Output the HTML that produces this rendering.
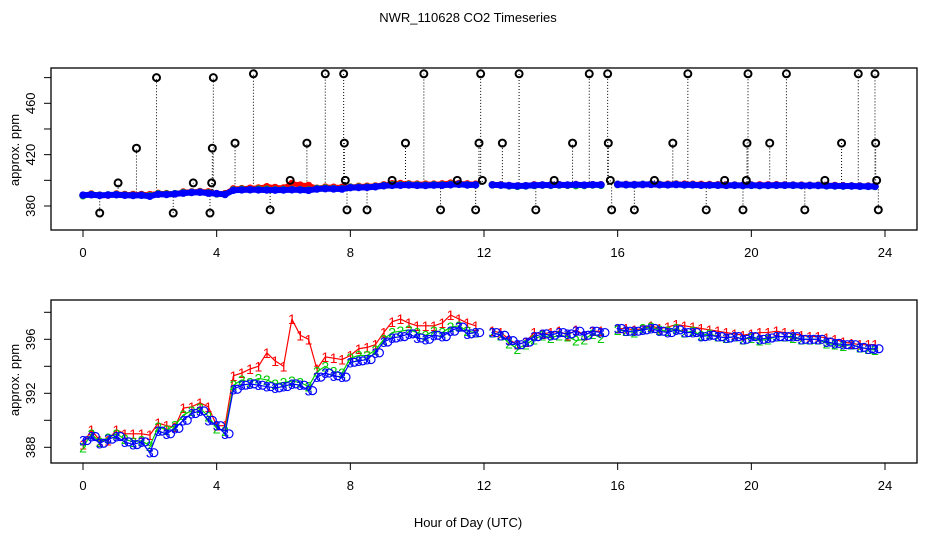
<!DOCTYPE html>
<html><head><meta charset="utf-8">
<style>
html,body{margin:0;padding:0;background:#fff;}
svg{display:block;font-family:"Liberation Sans",sans-serif;}
</style></head>
<body>
<svg id="chart" width="936" height="540" viewBox="0 0 936 540" xmlns="http://www.w3.org/2000/svg">
<rect x="0" y="0" width="936" height="540" fill="#fff"/>
<text x="468" y="22" font-size="13" text-anchor="middle">NWR_110628  CO2 Timeseries</text>
<g id="topPanel"></g>
<g id="botPanel"></g>
<text x="468" y="527" font-size="13" text-anchor="middle">Hour of Day (UTC)</text>
</svg>
<script>
// time grid (hours) for series
const times = [0,0.25,0.5,0.75,1,1.25,1.5,1.75,2,2.25,2.5,2.75,3,3.25,3.5,3.75,4,4.25,4.5,4.75,5,5.25,5.5,5.75,6,6.25,6.5,6.75,7,7.25,7.5,7.75,8,8.25,8.5,8.75,9,9.25,9.5,9.75,10,10.25,10.5,10.75,11,11.25,11.5,11.75,12.25,12.5,12.75,13,13.25,13.5,13.75,14,14.25,14.5,14.75,15,15.25,15.5,16,16.25,16.5,16.75,17,17.25,17.5,17.75,18,18.25,18.5,18.75,19,19.25,19.5,19.75,20,20.25,20.5,20.75,21,21.25,21.5,21.75,22,22.25,22.5,22.75,23,23.25,23.5,23.7];
const series1 = [388.2,389.3,388.5,388.5,389.3,389.0,389.0,389.0,388.9,389.8,389.6,389.5,390.9,391.0,391.3,391.0,389.6,389.6,393.3,393.5,393.8,394.0,395.0,394.4,394.0,397.5,396.3,396.0,393.8,394.7,394.6,394.5,394.8,395.3,395.4,395.6,396.5,397.3,397.5,397.2,397.0,397.0,397.0,397.2,397.8,397.5,397.2,397.0,396.6,396.5,396.0,395.6,395.8,396.5,396.4,396.5,396.6,396.3,396.7,396.3,396.6,396.6,396.8,396.8,396.7,396.8,397.0,396.8,396.9,397.1,397.0,396.9,396.8,396.7,396.6,396.5,396.4,396.3,396.4,396.5,396.5,396.6,396.5,396.4,396.3,396.2,396.2,396.1,396.0,395.8,395.7,395.6,395.6,395.6];
const series2 = [388.0,389.0,388.4,388.7,389.0,388.6,388.4,388.5,388.1,389.5,389.3,389.6,390.4,390.7,390.9,390.3,389.4,389.2,392.6,393.0,392.8,393.1,393.0,392.7,392.8,392.9,392.8,392.5,393.6,394.0,393.6,393.5,394.6,394.8,394.8,395.2,396.0,396.5,396.6,396.7,396.5,396.3,396.6,396.5,396.9,397.0,396.6,396.5,396.5,396.3,395.7,395.3,395.6,396.0,396.3,396.1,396.3,396.2,395.9,396.0,396.4,396.1,396.7,396.6,396.5,396.8,396.9,396.7,396.6,396.8,396.5,396.6,396.3,396.4,396.2,396.1,396.2,396.0,396.1,395.9,396.0,396.2,396.2,396.1,396.0,396.0,396.0,395.7,395.6,395.5,395.6,395.4,395.3,395.2];
const series3 = [388.5,388.8,388.3,388.6,388.8,388.4,388.2,388.4,387.6,389.2,389.0,389.4,390.0,390.5,390.7,390.0,389.6,389.0,392.3,392.6,392.7,392.6,392.5,392.4,392.5,392.7,392.6,392.2,393.2,393.5,393.3,393.2,394.3,394.4,394.5,395.0,395.8,396.1,396.2,396.4,396.1,396.0,396.3,396.2,396.6,396.9,396.4,396.5,396.5,396.3,395.9,395.6,395.8,396.2,396.4,396.3,396.5,396.4,396.6,396.3,396.6,396.5,396.8,396.6,396.6,396.7,396.8,396.6,396.5,396.7,396.5,396.5,396.2,396.3,396.2,396.1,396.2,396.0,396.2,396.0,396.1,396.2,396.2,396.2,396.0,396.0,396.0,395.8,395.7,395.6,395.6,395.4,395.3,395.3];
// outliers in top panel
const outTimes = [0.5,1.05,1.6,2.2,2.7,3.3,3.8,3.85,3.87,3.9,4.55,5.1,5.6,6.2,6.7,7.25,7.8,7.82,7.85,7.9,8.5,9.25,9.65,10.2,10.7,11.2,11.75,11.85,11.9,11.95,12.55,13.05,13.55,14.1,14.65,15.15,15.7,15.72,15.78,15.82,16.5,17.1,17.65,18.1,18.65,19.2,19.75,19.85,19.87,19.9,20.55,21.05,21.6,22.2,22.7,23.2,23.7,23.72,23.75,23.8];
const outValues = [374.5,398,425,480,374.5,398,374.5,398,425,480,429,483,377,400,429,483,483,429,400,377,377,400,429,483,377,400,377,429,483,400,429,483,377,400,429,483,483,429,400,377,377,400,429,483,377,400,377,400,429,483,429,483,377,400,429,483,483,429,400,377];
const xTicks = [0,4,8,12,16,20,24];
const topYTicks = [380,400,420,440,460,480];
const topYLabels = [380,420,460];
const botYTicks = [388,390,392,394,396,398];
const botYLabels = [388,392,396];

(function(){
const NS="http://www.w3.org/2000/svg";
const X0=51,X1=917;
const xs=h=>83+h*(885-83)/24;
const topY=v=>206-(v-380)*(206-103.3)/80;
const botY=v=>447.3-(v-388)*(447.3-339.3)/8;
function mk(parent,tag,attrs,txt){const e=document.createElementNS(NS,tag);for(const k in attrs)e.setAttribute(k,attrs[k]);if(txt!==undefined)e.textContent=txt;parent.appendChild(e);return e;}
function gap(i){return i>0 && times[i]-times[i-1]>0.3;}
function nearest(s,t){let bi=0,bd=1e9;for(let i=0;i<times.length&&i<s.length;i++){const d=Math.abs(times[i]-t);if(d<bd){bd=d;bi=i;}}return s[bi];}

function axes(g,y0,y1,yfn,yt,yl,name,cy){
  const box=mk(g,'rect',{x:X0,y:y0,width:X1-X0,height:y1-y0,fill:'none',stroke:'#000','stroke-width':1.3});
  
  
  xTicks.forEach(t=>{
    const l=mk(g,'line',{x1:xs(t),x2:xs(t),y1:y1,y2:y1+7,stroke:'#000'});
    
    
    const tx=mk(g,'text',{x:xs(t),y:y1+27,'font-size':13,'text-anchor':'middle'},String(t));
    
    
  });
  yt.forEach(v=>{
    const l=mk(g,'line',{x1:X0-7,x2:X0,y1:yfn(v),y2:yfn(v),stroke:'#000'});
    
    
  });
  yl.forEach(v=>{
    const tx=mk(g,'text',{x:35,y:yfn(v),'font-size':13,'text-anchor':'middle',transform:`rotate(-90 35 ${yfn(v)})`},String(v));
    
    
  });
  const yt2=mk(g,'text',{x:19,y:cy,'font-size':13,'text-anchor':'middle',transform:`rotate(-90 19 ${cy})`},'approx. ppm');
  
  
}

const tg=document.getElementById('topPanel');
axes(tg,68,230,topY,topYTicks,topYLabels,'top',150);
outTimes.forEach((t,i)=>{
  const l=mk(tg,'line',{x1:xs(t),x2:xs(t),y1:topY(nearest(series3,t)),y2:topY(outValues[i]),stroke:'#000','stroke-dasharray':'1 2'});
  
  
});
[[series1,'#f00'],[series2,'#0c0'],[series3,'#00f']].forEach(([s,c],k)=>{
  const n=Math.min(times.length,s.length);
  for(let i=0;i<n;i++){
    if(i>0&&!gap(i)){
      const l=mk(tg,'line',{x1:xs(times[i-1]),x2:xs(times[i]),y1:topY(s[i-1]),y2:topY(s[i]),stroke:c,'stroke-width':k===2?6:5,'stroke-linecap':'round'});
      
      
    }
    const p=mk(tg,'circle',{cx:xs(times[i]),cy:topY(s[i]),r:3,fill:'none',stroke:c,'stroke-width':1.5});
    
    
  }
});
outTimes.forEach((t,i)=>{
  const p=mk(tg,'circle',{cx:xs(t),cy:topY(outValues[i]),r:3.5,fill:'none',stroke:'#000','stroke-width':2});
  
  
});

const bg=document.getElementById('botPanel');
axes(bg,300,463,botY,botYTicks,botYLabels,'bottom',380);
[[series1,'#f00','1'],[series2,'#0c0','2'],[series3,'#00f','3']].forEach(([s,c,ch],k)=>{
  const n=Math.min(times.length,s.length);
  for(let i=0;i<n;i++){
    if(i>0&&!gap(i)){
      const l=mk(bg,'line',{x1:xs(times[i-1]),x2:xs(times[i]),y1:botY(s[i-1]),y2:botY(s[i]),stroke:c,'stroke-width':1.2});
      
      
    }
    const m=mk(bg,'text',{x:xs(times[i]),y:botY(s[i])+5,'font-size':14,fill:c,'text-anchor':'middle'},ch);
    
    
    if(k===2){
      const o=mk(bg,'circle',{cx:xs(times[i])+4,cy:botY(s[i]),r:4,fill:'none',stroke:c,'stroke-width':1.2});
      
      
    }
  }
});
})();
</script>
</body></html>
